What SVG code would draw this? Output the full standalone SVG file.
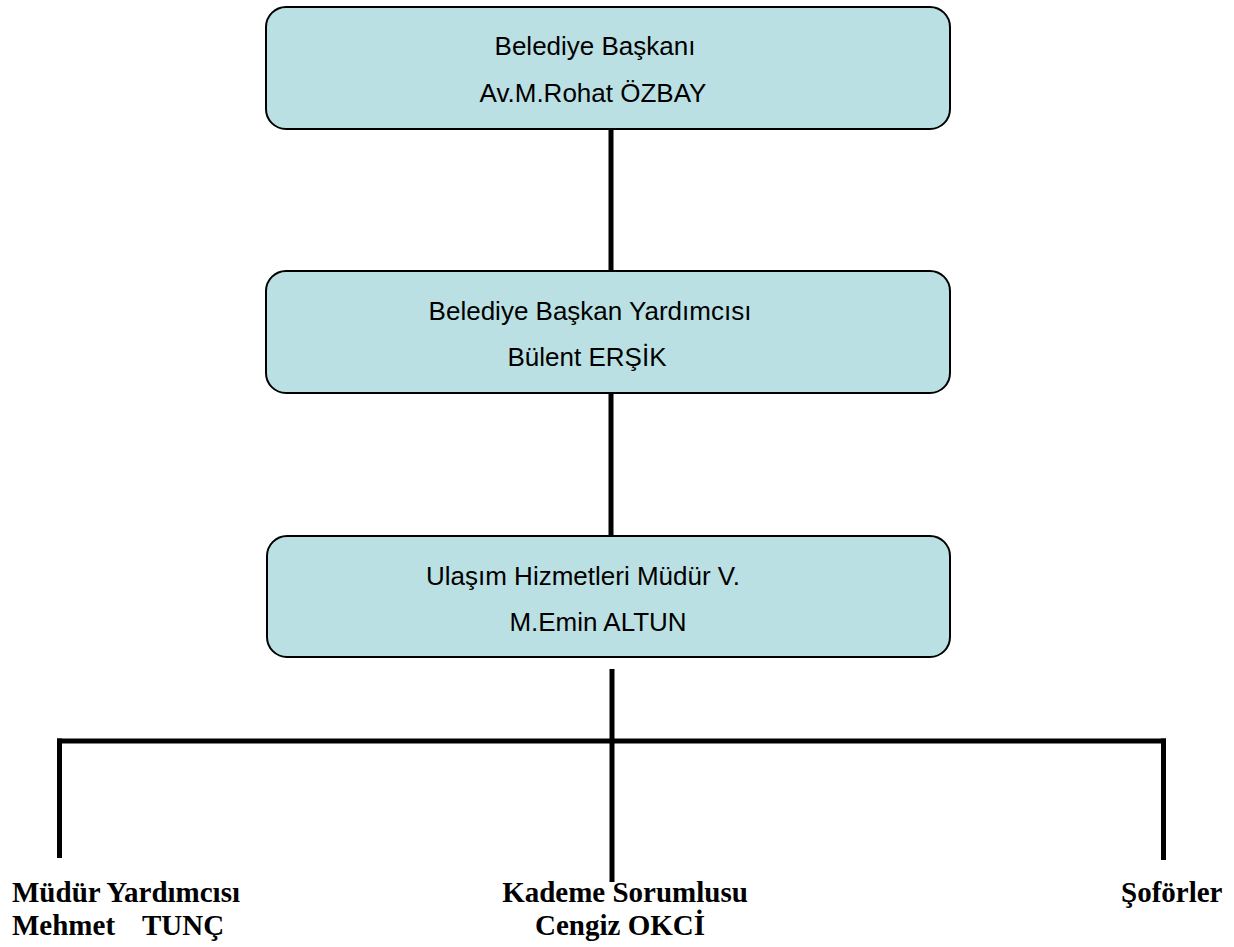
<svg xmlns="http://www.w3.org/2000/svg" width="1234" height="947" viewBox="0 0 1234 947">
<style>
.box{fill:#bbe0e3;stroke:#000;stroke-width:2}
.bt{font-family:"Liberation Sans",Arial,sans-serif;font-size:26px;fill:#000;text-anchor:middle}
.lt{font-family:"Liberation Serif","Times New Roman",serif;font-size:29px;font-weight:bold;fill:#000}
.ln{stroke:#000;stroke-width:5;fill:none}
</style>
<rect width="1234" height="947" fill="#fff"/>
<g id="connectors">
<line class="ln" x1="611" y1="129" x2="611" y2="271"/>
<line class="ln" x1="611" y1="393" x2="611" y2="536"/>
<line class="ln" x1="612" y1="669" x2="612" y2="882"/>
<line class="ln" x1="57" y1="741" x2="1166" y2="741"/>
<line class="ln" x1="59.5" y1="738.5" x2="59.5" y2="858"/>
<line class="ln" x1="1163.5" y1="738.5" x2="1163.5" y2="860"/>
</g>
<g id="n1">
<rect class="box" x="266" y="7" width="684" height="122" rx="20"/>
<text class="bt" x="595" y="55">Belediye Başkanı</text>
<text class="bt" x="593" y="102">Av.M.Rohat ÖZBAY</text>
</g>
<g id="n2">
<rect class="box" x="266" y="271" width="684" height="122" rx="20"/>
<text class="bt" x="590" y="320">Belediye Başkan Yardımcısı</text>
<text class="bt" x="587" y="366">Bülent ERŞİK</text>
</g>
<g id="n3">
<rect class="box" x="267" y="536" width="683" height="121" rx="20"/>
<text class="bt" x="583" y="585">Ulaşım Hizmetleri Müdür V.</text>
<text class="bt" x="598" y="631">M.Emin ALTUN</text>
</g>
<g id="n4">
<text class="lt" x="12" y="902">Müdür Yardımcısı</text>
<text class="lt" y="935"><tspan x="12">Mehmet</tspan><tspan x="142">TUNÇ</tspan></text>
</g>
<g id="n5">
<text class="lt" x="625" y="902" text-anchor="middle">Kademe Sorumlusu</text>
<text class="lt" x="620" y="935" text-anchor="middle">Cengiz OKCİ</text>
</g>
<g id="n6">
<text class="lt" x="1121" y="902">Şoförler</text>
</g>
</svg>
